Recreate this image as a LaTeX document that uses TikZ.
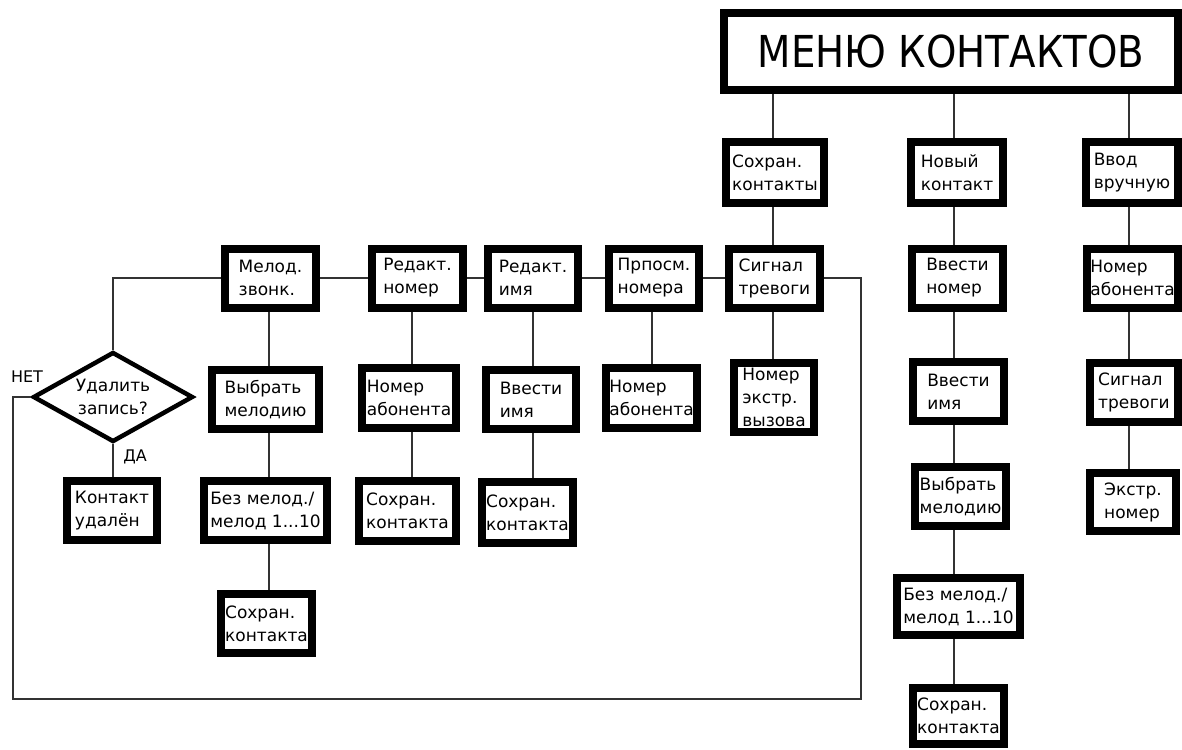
\documentclass[tikz,border=0pt]{standalone}
\usepackage{fontspec}
\setmainfont{DejaVu Sans}
\newfontfamily\titlefont[FakeStretch=0.88]{DejaVu Sans}
\usetikzlibrary{shapes.geometric}
\begin{document}
\begin{tikzpicture}[x=1pt,y=-1pt,
  box/.style={draw=black,line width=8pt,fill=white,inner sep=0pt,align=left,
    font=\fontsize{17}{23}\selectfont},
  conn/.style={draw=black!80,line width=1.6pt},
  lbl/.style={inner sep=0pt,font=\fontsize{16}{20}\selectfont}]
\useasboundingbox[fill=white] (0,0) rectangle (1182,749);
% title
\node[box,minimum width=454pt,minimum height=77pt,font=\titlefont\fontsize{44}{50}\selectfont] (title) at (951,51.5) {МЕНЮ КОНТАКТОВ};
% row 1
\node[box,minimum width=98pt,minimum height=61pt] (sk) at (775,172.5) {Сохран.\\контакты};
\node[box,minimum width=92pt,minimum height=61pt] (nk) at (957,172.5) {Новый\\контакт};
\node[box,minimum width=92pt,minimum height=61pt] (vv) at (1132,172.5) {Ввод\\вручную};
% row 2
\node[box,minimum width=91pt,minimum height=59pt] (mz) at (270.5,278) {Мелод.\\звонк.};
\node[box,minimum width=91pt,minimum height=59pt] (rn) at (417.5,278) {Редакт.\\номер};
\node[box,minimum width=90pt,minimum height=59pt] (ri) at (533,278) {Редакт.\\имя};
\node[box,minimum width=90pt,minimum height=59pt] (pn) at (654,278) {Прпосм.\\номера};
\node[box,minimum width=91pt,minimum height=59pt] (st) at (774.5,278) {Сигнал\\тревоги};
\node[box,minimum width=91pt,minimum height=59pt] (vn) at (957.5,278) {Ввести\\номер};
\node[box,minimum width=91pt,minimum height=59pt] (na3) at (1132.5,278) {Номер\\абонента};
% decision
\node[draw=black,line width=4.5pt,fill=white,shape=diamond,aspect=1.78,inner sep=0pt,
  minimum width=160pt,minimum height=90pt,align=center,
  font=\fontsize{17}{23}\selectfont] (dm) at (113,397) {Удалить\\запись?};
% row 3
\node[box,minimum width=107pt,minimum height=59pt] (vm) at (265.5,399.5) {Выбрать\\мелодию};
\node[box,minimum width=94pt,minimum height=60pt] (na1) at (409,398) {Номер\\абонента};
\node[box,minimum width=90pt,minimum height=59pt] (vi1) at (531,399.5) {Ввести\\имя};
\node[box,minimum width=91pt,minimum height=60pt] (na2) at (651.5,398) {Номер\\абонента};
\node[box,minimum width=80pt,minimum height=69pt] (ne) at (774,397.5) {Номер\\экстр.\\вызова};
\node[box,minimum width=91pt,minimum height=59pt] (vi2) at (958.5,391.5) {Ввести\\имя};
\node[box,minimum width=88pt,minimum height=59pt] (st2) at (1134,392.5) {Сигнал\\тревоги};
% row 4
\node[box,minimum width=90pt,minimum height=59pt] (ku) at (112,510.5) {Контакт\\удалён};
\node[box,minimum width=123pt,minimum height=59pt] (bm1) at (265.5,510.5) {Без мелод./\\мелод 1...10};
\node[box,minimum width=97pt,minimum height=60pt] (sc1) at (407.5,511) {Сохран.\\контакта};
\node[box,minimum width=91pt,minimum height=61pt] (sc2) at (527.5,512.5) {Сохран.\\контакта};
\node[box,minimum width=91pt,minimum height=59pt] (vm2) at (960.5,496.5) {Выбрать\\мелодию};
\node[box,minimum width=86pt,minimum height=58pt] (en) at (1133,502) {Экстр.\\номер};
% row 5
\node[box,minimum width=91pt,minimum height=59pt] (sc3) at (266.5,623.5) {Сохран.\\контакта};
\node[box,minimum width=123pt,minimum height=57pt] (bm2) at (958.5,606.5) {Без мелод./\\мелод 1...10};
\node[box,minimum width=91pt,minimum height=56pt] (sc4) at (958.5,716) {Сохран.\\контакта};
% labels
\node[lbl] (net) at (27,377) {НЕТ};
\node[lbl] (da) at (135,457) {ДА};
% column coordinates
\coordinate (cmz) at (269,0);
\coordinate (crn) at (412,0);
\coordinate (cri) at (533,0);
\coordinate (cpn) at (652,0);
\coordinate (cst) at (773,0);
\coordinate (cnk) at (954,0);
\coordinate (cvv) at (1129,0);
\coordinate (l1) at (13,699);
\coordinate (l2) at (861,699);
% connectors
\draw[conn] (cst |- title.south) -- (cst |- sk.north);
\draw[conn] (cnk |- title.south) -- (cnk |- nk.north);
\draw[conn] (cvv |- title.south) -- (cvv |- vv.north);
\draw[conn] (cst |- sk.south) -- (cst |- st.north);
\draw[conn] (cst |- st.south) -- (cst |- ne.north);
\draw[conn] (cnk |- nk.south) -- (cnk |- vn.north);
\draw[conn] (cnk |- vn.south) -- (cnk |- vi2.north);
\draw[conn] (cnk |- vi2.south) -- (cnk |- vm2.north);
\draw[conn] (cnk |- vm2.south) -- (cnk |- bm2.north);
\draw[conn] (cnk |- bm2.south) -- (cnk |- sc4.north);
\draw[conn] (cvv |- vv.south) -- (cvv |- na3.north);
\draw[conn] (cvv |- na3.south) -- (cvv |- st2.north);
\draw[conn] (cvv |- st2.south) -- (cvv |- en.north);
\draw[conn] (mz.east) -- (rn.west);
\draw[conn] (rn.east) -- (ri.west);
\draw[conn] (ri.east) -- (pn.west);
\draw[conn] (pn.east) -- (st.west);
\draw[conn] (mz.west) -| (dm.north);
\draw[conn] (dm.south) -- (dm.south |- ku.north);
\draw[conn] (cmz |- mz.south) -- (cmz |- vm.north);
\draw[conn] (cmz |- vm.south) -- (cmz |- bm1.north);
\draw[conn] (cmz |- bm1.south) -- (cmz |- sc3.north);
\draw[conn] (crn |- rn.south) -- (crn |- na1.north);
\draw[conn] (crn |- na1.south) -- (crn |- sc1.north);
\draw[conn] (cri |- ri.south) -- (cri |- vi1.north);
\draw[conn] (cri |- vi1.south) -- (cri |- sc2.north);
\draw[conn] (cpn |- pn.south) -- (cpn |- na2.north);
\draw[conn] (dm.west) -| (l1) -- (l2) |- (st.east);
\end{tikzpicture}
\end{document}
